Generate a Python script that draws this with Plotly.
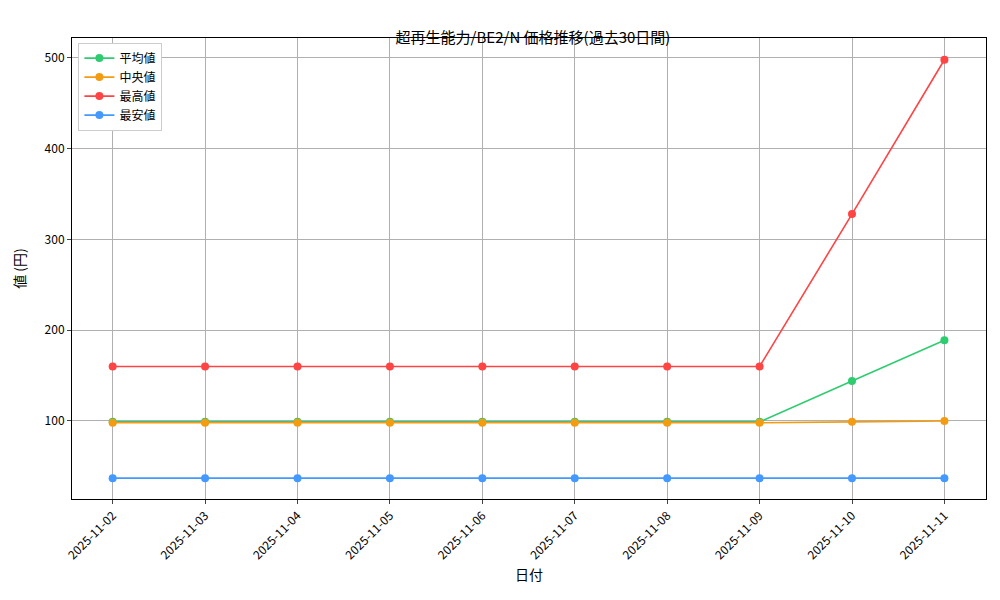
import plotly.graph_objects as go

dates = ["2025-11-02", "2025-11-03", "2025-11-04", "2025-11-05", "2025-11-06",
         "2025-11-07", "2025-11-08", "2025-11-09", "2025-11-10", "2025-11-11"]
avg_vals = [99, 99, 99, 99, 99, 99, 99, 99, 144, 189]
median_vals = [98, 98, 98, 98, 98, 98, 98, 98, 99, 100]
max_vals = [160, 160, 160, 160, 160, 160, 160, 160, 328, 498]
min_vals = [37, 37, 37, 37, 37, 37, 37, 37, 37, 37]

series = [
    ("平均値", avg_vals, "#2ecc71"),
    ("中央値", median_vals, "#f39c12"),
    ("最高値", max_vals, "#ff4444"),
    ("最安値", min_vals, "#4499ff"),
]

font = "Noto Sans CJK JP"
fig = go.Figure()
for name, vals, color in series:
    fig.add_trace(go.Scatter(
        x=list(range(len(dates))), y=vals, name=name, mode="lines+markers",
        line=dict(color=color, width=1.6), marker=dict(size=8, color=color),
    ))

fig.update_layout(
    width=1000, height=600,
    paper_bgcolor="white", plot_bgcolor="white",
    font=dict(family=font, size=12, color="black"),
    title=dict(text="超再生能力/BE2/N 価格推移(過去30日間)", x=0.525, y=0.96,
               xanchor="center", font=dict(size=15)),
    margin=dict(l=60, r=22, t=30, b=109),
    showlegend=True,
    legend=dict(x=0.007, y=0.99, xanchor="left", yanchor="top",
                bgcolor="white", bordercolor="#cccccc", borderwidth=1,
                font=dict(size=12)),
    xaxis=dict(
        title=dict(text="日付", standoff=8),
        tickmode="array", tickvals=list(range(len(dates))), ticktext=dates,
        tickangle=-45, range=[-0.44, 9.45],
        showgrid=True, gridcolor="#b0b0b0", gridwidth=1,
        showline=True, linecolor="black", mirror=True,
        ticks="outside", ticklen=4, zeroline=False,
    ),
    yaxis=dict(
        title=dict(text="値 (円)"),
        range=[14, 522], tickvals=[100, 200, 300, 400, 500],
        showgrid=True, gridcolor="#b0b0b0", gridwidth=1,
        showline=True, linecolor="black", mirror=True,
        ticks="outside", ticklen=4, zeroline=False,
    ),
)

fig.write_html("out.html")
